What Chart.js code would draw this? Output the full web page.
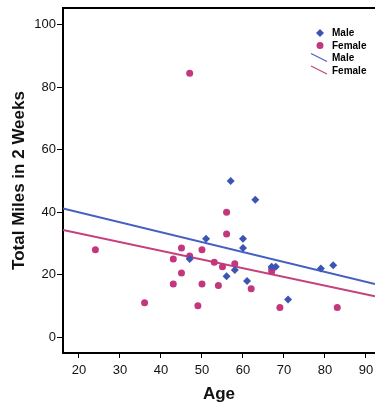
<!DOCTYPE html>
<html>
<head>
<meta charset="utf-8">
<script src="https://cdn.jsdelivr.net/npm/chart.js@4"></script>
<style>
  html, body { margin: 0; padding: 0; background: #fff; overflow: hidden; }
</style>
</head>
<body>
<canvas id="chart" width="375" height="409"></canvas>
<script>
const maleAge = [57, 63, 51, 60, 60, 47, 56, 58, 61, 67, 68, 71, 79, 82];
const maleMiles = [50, 44, 31.5, 31.5, 28.5, 25, 19.5, 21.5, 18, 22.5, 22.5, 12, 22, 23];

const femaleAge = [47, 24, 36, 56, 56, 45, 50, 43, 47, 53, 55, 58, 45, 43, 50, 54, 62, 67, 67, 49, 69, 83];
const femaleMiles = [84.5, 28, 11, 40, 33, 28.5, 28, 25, 26, 24, 22.5, 23.5, 20.5, 17, 17, 16.5, 15.5, 22, 21, 10, 9.5, 9.5];

// fit line ends (age, miles)
const maleLineAge = [16.1, 92.2];
const maleLineMiles = [41.2, 17];
const femaleLineAge = [16.1, 92.2];
const femaleLineMiles = [34.3, 13.1];

const xTicks = [20, 30, 40, 50, 60, 70, 80, 90];
const yTicks = [0, 20, 40, 60, 80, 100];

const BLUE = '#3b55b5';
const PINK = '#c3377d';
const BLUE_LINE = '#4660c2';
const PINK_LINE = '#c6407e';
const FONT = '"Liberation Sans", Arial, sans-serif';

const toPoints = (xs, ys) => xs.map((x, i) => ({ x: x, y: ys[i] }));

// top border of the plot box
const boxPlugin = {
  id: 'box',
  afterDraw(chart) {
    const { ctx, chartArea } = chart;
    ctx.save();
    ctx.strokeStyle = '#000';
    ctx.lineWidth = 2;
    ctx.beginPath();
    ctx.moveTo(chartArea.left - 1, chartArea.top);
    ctx.lineTo(chartArea.right, chartArea.top);
    ctx.stroke();
    ctx.restore();
  }
};

// legend inside the plot, top right
const legendPlugin = {
  id: 'innerLegend',
  afterDraw(chart) {
    const ctx = chart.ctx;
    const rows = [33, 45.5, 58, 70.5];
    ctx.save();
    ctx.font = 'bold 10px ' + FONT;
    ctx.textBaseline = 'middle';
    chart.data.datasets.forEach((ds, i) => {
      const y = rows[i];
      if (ds.type === 'line') {
        ctx.strokeStyle = ds.borderColor;
        ctx.lineWidth = 1.2;
        ctx.beginPath();
        ctx.moveTo(311, y - 4.5);
        ctx.lineTo(327, y + 3.5);
        ctx.stroke();
      } else {
        ctx.fillStyle = ds.backgroundColor;
        ctx.beginPath();
        if (ds.pointStyle === 'rectRot') {
          ctx.moveTo(320, y - 4);
          ctx.lineTo(324, y);
          ctx.lineTo(320, y + 4);
          ctx.lineTo(316, y);
        } else {
          ctx.arc(320, y, 3.5, 0, Math.PI * 2);
        }
        ctx.fill();
      }
      ctx.fillStyle = '#000';
      ctx.fillText(ds.label, 332, y + 0.5);
    });
    ctx.restore();
  }
};

new Chart(document.getElementById('chart'), {
  type: 'scatter',
  data: {
    datasets: [
      {
        label: 'Male',
        data: toPoints(maleAge, maleMiles),
        pointStyle: 'rectRot',
        pointRadius: 4,
        backgroundColor: BLUE,
        borderColor: BLUE,
        borderWidth: 0
      },
      {
        label: 'Female',
        data: toPoints(femaleAge, femaleMiles),
        pointStyle: 'circle',
        pointRadius: 3.5,
        backgroundColor: PINK,
        borderColor: PINK,
        borderWidth: 0
      },
      {
        type: 'line',
        label: 'Male',
        data: toPoints(maleLineAge, maleLineMiles),
        borderColor: BLUE_LINE,
        borderWidth: 2,
        pointRadius: 0,
        fill: false
      },
      {
        type: 'line',
        label: 'Female',
        data: toPoints(femaleLineAge, femaleLineMiles),
        borderColor: PINK_LINE,
        borderWidth: 2,
        pointRadius: 0,
        fill: false
      }
    ]
  },
  options: {
    responsive: false,
    animation: false,
    devicePixelRatio: 1,
    layout: { autoPadding: false, padding: { top: 8, left: 0, right: 0, bottom: 0 } },
    plugins: {
      legend: { display: false },
      tooltip: { enabled: false }
    },
    scales: {
      x: {
        type: 'linear',
        min: 16.1,
        max: 92.2,
        afterBuildTicks: s => { s.ticks = xTicks.map(v => ({ value: v })); },
        afterFit: s => { s.height = 56; s.paddingRight = 0; s.paddingLeft = 0; },
        grid: { drawOnChartArea: false, drawTicks: true, tickLength: 5, color: '#000', lineWidth: 1 },
        border: { color: '#000', width: 2 },
        ticks: { color: '#111', padding: 5, font: { family: FONT, size: 13 }, maxRotation: 0 },
        title: { display: true, text: 'Age', color: '#111', font: { family: FONT, size: 17, weight: 'bold' }, padding: { top: 0, bottom: 4 } }
      },
      y: {
        type: 'linear',
        min: -5.1,
        max: 105.4,
        afterBuildTicks: s => { s.ticks = yTicks.map(v => ({ value: v })); },
        afterFit: s => { s.width = 63; s.paddingTop = 0; s.paddingBottom = 0; },
        grid: { drawOnChartArea: false, drawTicks: true, tickLength: 6, color: '#000', lineWidth: 1 },
        border: { color: '#000', width: 2 },
        ticks: { color: '#111', padding: 1, font: { family: FONT, size: 13 } },
        title: { display: true, text: 'Total Miles in 2 Weeks', color: '#111', font: { family: FONT, size: 17, weight: 'bold' }, padding: { top: 9, bottom: 0 } }
      }
    }
  },
  plugins: [boxPlugin, legendPlugin]
});
</script>
</body>
</html>
